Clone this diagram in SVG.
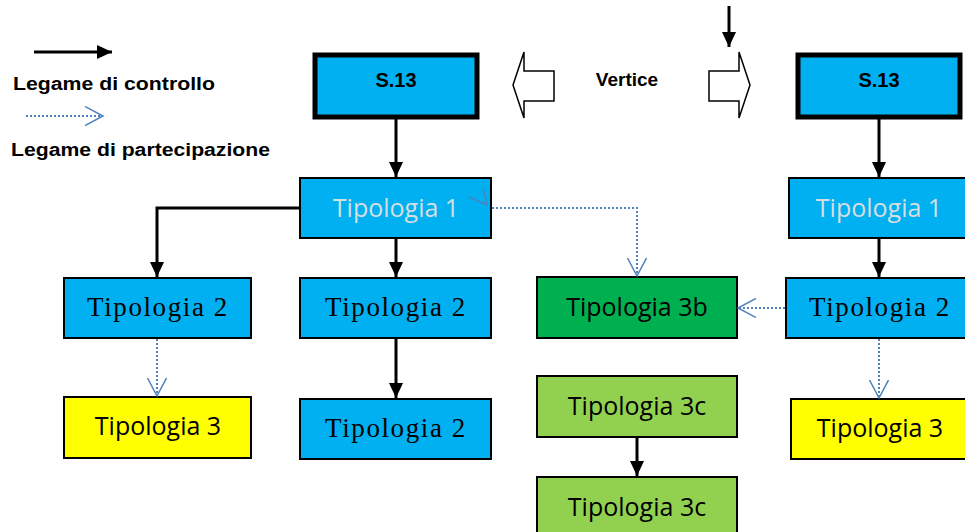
<svg xmlns="http://www.w3.org/2000/svg" width="965" height="532" viewBox="0 0 965 532">
<style>
.box{stroke:#000;stroke-width:2}
.blue{fill:#00b0f0}
.yel{fill:#ffff00}
.dg{fill:#00b050}
.lg{fill:#92d050}
.top{stroke:#000;stroke-width:5;fill:#00b0f0}
.ctl{stroke:#000;stroke-width:3;fill:none;marker-end:url(#ah)}
.par{stroke:#4f81bd;stroke-width:2;stroke-dasharray:2 2;fill:none;marker-end:url(#oh)}
.bold{font-family:"Liberation Sans",Arial,sans-serif;font-weight:bold;fill:#000}
.sans{font-family:"Open Sans","Noto Sans",sans-serif;font-size:25px;text-anchor:middle;fill:#000}
.serif{font-family:"Liberation Serif","Times New Roman",serif;font-size:27px;letter-spacing:1.6px;text-anchor:middle;fill:#000}
.light{fill:#d6dee2}
.blk{stroke:#000;stroke-width:1.5;fill:#fff}
</style>
<defs>
<marker id="ah" markerUnits="userSpaceOnUse" markerWidth="16" markerHeight="15" refX="15" refY="7" orient="auto">
<path d="M0,0 L15,7 L0,14 z" fill="#000"/>
</marker>
<marker id="oh" markerUnits="userSpaceOnUse" markerWidth="20" markerHeight="21" refX="18" refY="10" orient="auto">
<path d="M0,0.5 L18,10 L0,19.5" fill="none" stroke="#4f81bd" stroke-width="1.5"/>
</marker>
</defs>
<rect width="965" height="532" fill="#fff"/>

<g id="legend">
<line x1="34" y1="52" x2="112" y2="52" class="ctl"/>
<text x="13" y="90" class="bold" font-size="18" textLength="202" lengthAdjust="spacingAndGlyphs">Legame di controllo</text>
<line x1="26" y1="116" x2="103" y2="116" class="par"/>
<text x="11" y="156" class="bold" font-size="18" textLength="259" lengthAdjust="spacingAndGlyphs">Legame di partecipazione</text>
</g>

<g id="vertice">
<path d="M513,85 L524,52 L524,71 L554,71 L554,101 L524,101 L524,118 z" class="blk"/>
<text x="627" y="86" class="bold" font-size="19" text-anchor="middle">Vertice</text>
<path d="M750,85 L739,52 L739,71 L709,71 L709,101 L739,101 L739,118 z" class="blk"/>
</g>

<g id="s13-left">
<rect x="315" y="55" width="162" height="62" class="top"/>
<text x="396" y="87" class="bold" font-size="20" text-anchor="middle">S.13</text>
</g>
<g id="s13-right">
<rect x="798" y="55" width="162" height="62" class="top"/>
<text x="879" y="87" class="bold" font-size="20" text-anchor="middle">S.13</text>
</g>

<g id="tip1-left">
<rect x="300" y="178" width="191" height="60" class="box blue"/>
<text x="396" y="217" class="sans light">Tipologia 1</text>
</g>
<g id="tip1-right">
<rect x="789" y="178" width="180" height="60" class="box blue"/>
<text x="879" y="217" class="sans light">Tipologia 1</text>
</g>

<g id="tip2-a">
<rect x="64" y="278" width="187" height="60" class="box blue"/>
<text x="158" y="316" class="serif">Tipologia 2</text>
</g>
<g id="tip2-b">
<rect x="300" y="278" width="191" height="60" class="box blue"/>
<text x="396" y="316" class="serif">Tipologia 2</text>
</g>
<g id="tip2-c">
<rect x="300" y="399" width="191" height="60" class="box blue"/>
<text x="396" y="437" class="serif">Tipologia 2</text>
</g>
<g id="tip2-right">
<rect x="786" y="278" width="183" height="60" class="box blue"/>
<text x="880" y="316" class="serif">Tipologia 2</text>
</g>

<g id="tip3-left">
<rect x="64" y="397" width="187" height="61" class="box yel"/>
<text x="158" y="435" class="sans">Tipologia 3</text>
</g>
<g id="tip3-right">
<rect x="791" y="399" width="178" height="60" class="box yel"/>
<text x="880" y="437" class="sans">Tipologia 3</text>
</g>

<g id="tip3b">
<rect x="537" y="277" width="200" height="61" class="box dg"/>
<text x="637" y="316" class="sans">Tipologia 3b</text>
</g>
<g id="tip3c-a">
<rect x="537" y="376" width="200" height="61" class="box lg"/>
<text x="637" y="415" class="sans">Tipologia 3c</text>
</g>
<g id="tip3c-b">
<rect x="537" y="477" width="200" height="61" class="box lg"/>
<text x="637" y="516" class="sans">Tipologia 3c</text>
</g>

<g id="connectors">
<line x1="729" y1="6" x2="729" y2="47" class="ctl"/>
<line x1="396" y1="119" x2="396" y2="177" class="ctl"/>
<polyline points="299,208 157,208 157,277" class="ctl"/>
<line x1="396" y1="239" x2="396" y2="277" class="ctl"/>
<line x1="396" y1="339" x2="396" y2="398" class="ctl"/>
<line x1="637" y1="438" x2="637" y2="476" class="ctl"/>
<line x1="879" y1="119" x2="879" y2="177" class="ctl"/>
<line x1="879" y1="239" x2="879" y2="277" class="ctl"/>
<line x1="157" y1="339" x2="157" y2="396" class="par"/>
<polyline points="492,208 637,208 637,276" class="par"/>
<polyline points="469,197 487,205 483,188" fill="none" stroke="#4f81bd" stroke-width="1.5"/>
<line x1="785" y1="308" x2="738" y2="308" class="par"/>
<line x1="879" y1="339" x2="879" y2="398" class="par"/>
</g>
</svg>
